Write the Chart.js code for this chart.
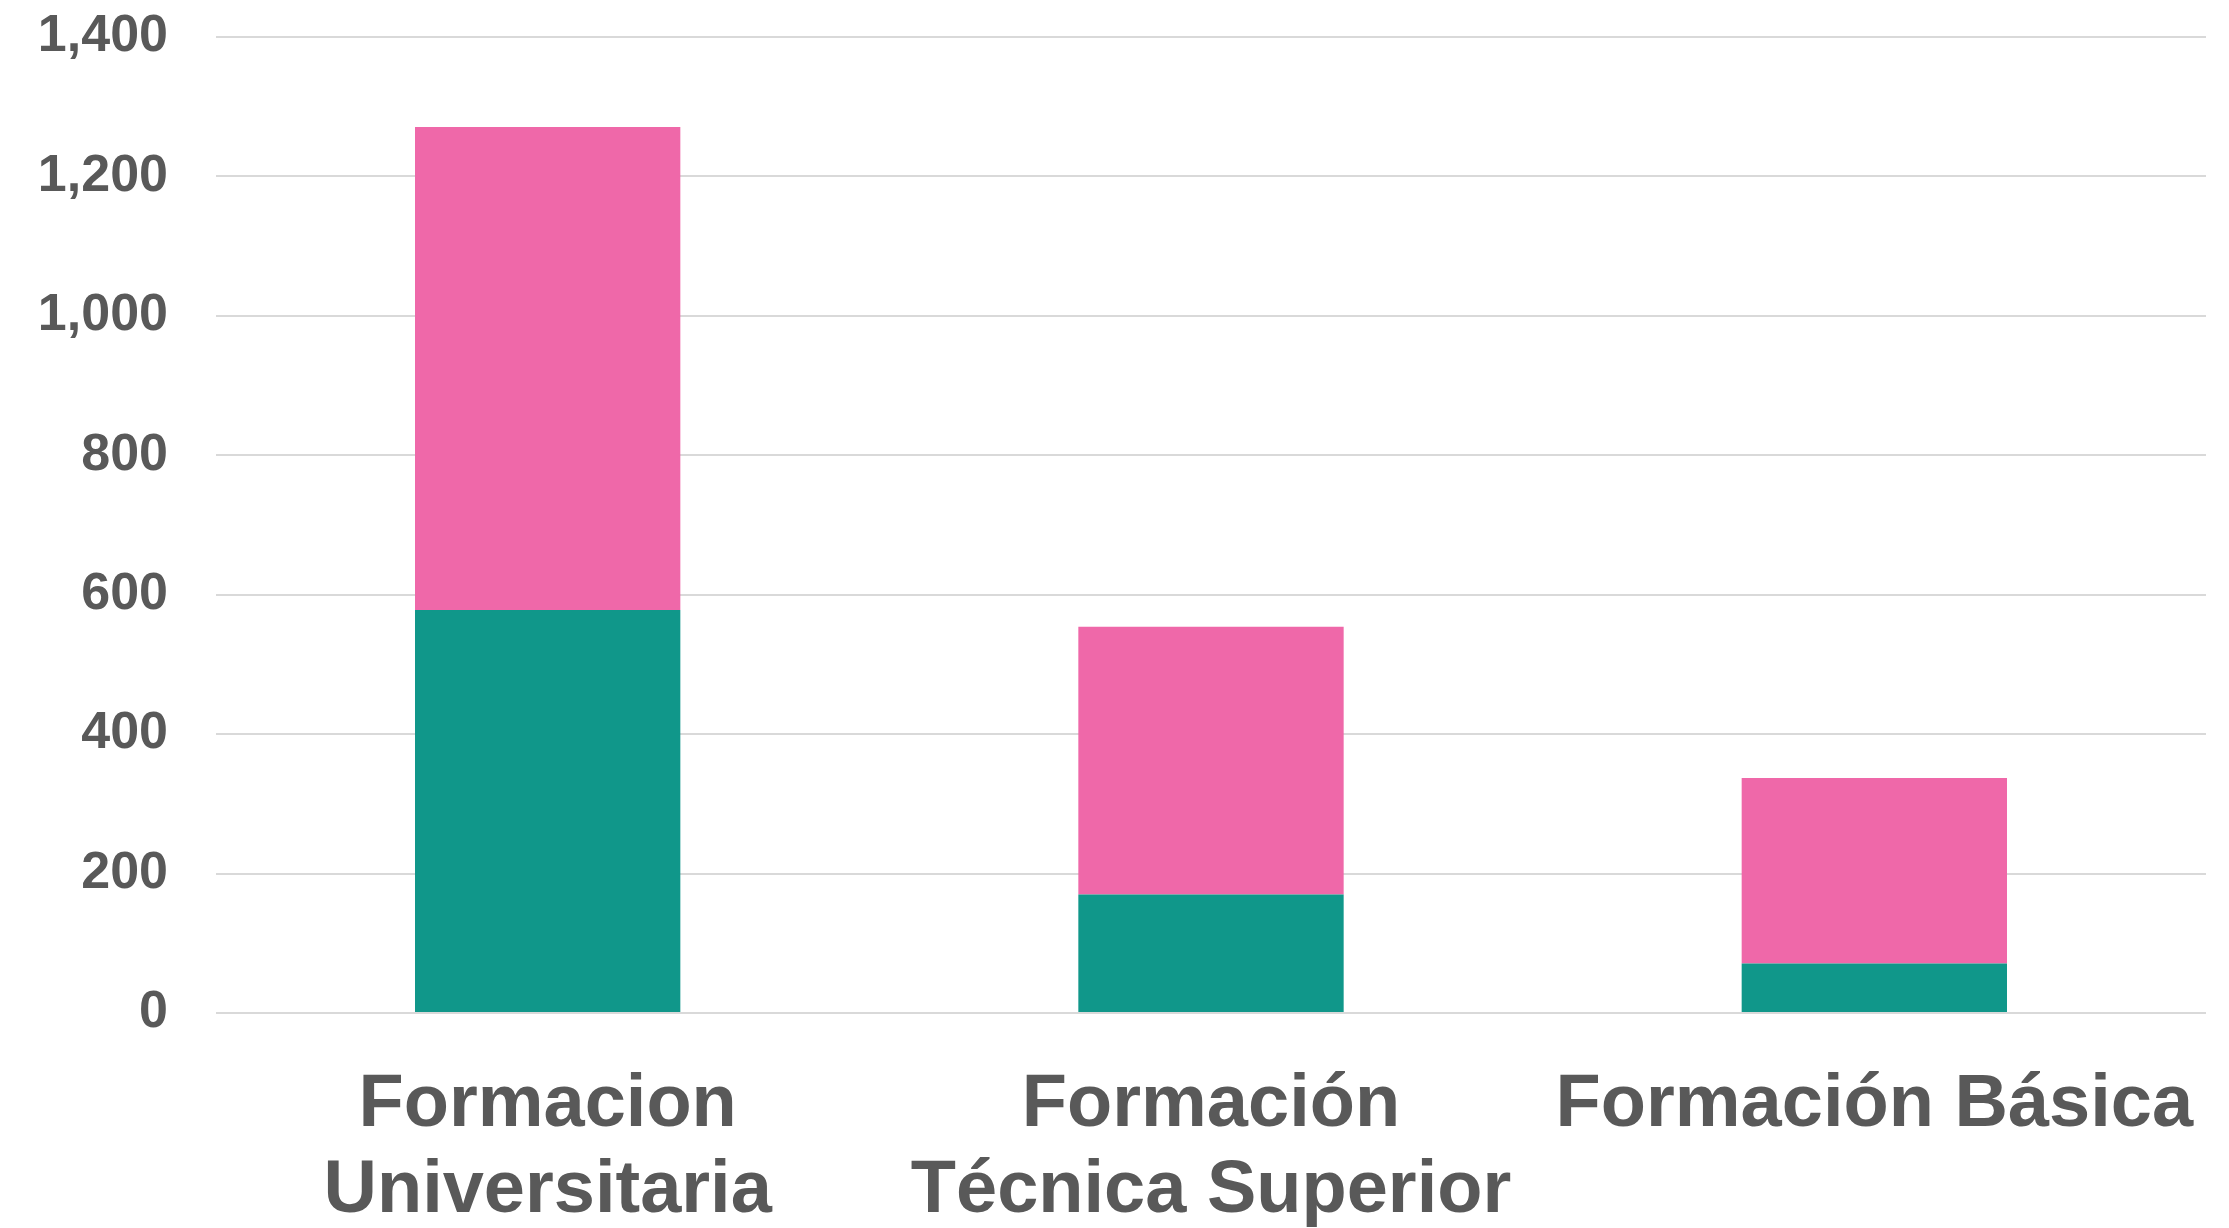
<!DOCTYPE html>
<html>
<head>
<meta charset="utf-8">
<script src="https://cdn.jsdelivr.net/npm/chart.js@4"></script>
<style>
  body { margin: 0; background: #fff; }
</style>
</head>
<body>
<canvas id="chart1" width="2229" height="1228"></canvas>
<script>
var categories = [
  ['Formacion', 'Universitaria'],
  ['Formación', 'Técnica Superior'],
  ['Formación Básica']
];
var hombres = [578, 170, 71];
var mujeres = [693, 384, 266];
var yTicks = [0, 200, 400, 600, 800, 1000, 1200, 1400];

var chart = new Chart('chart1', {
  type: 'bar',
  data: {
    labels: categories,
    datasets: [
      { label: 'Hombres', data: hombres, backgroundColor: '#10978a' },
      { label: 'Mujeres', data: mujeres, backgroundColor: '#ef68a9' }
    ]
  },
  options: {
    responsive: false,
    animation: false,
    devicePixelRatio: 1,
    layout: { padding: { left: 38, right: 23, top: 37, bottom: 0 } },
    plugins: {
      legend: { display: false },
      tooltip: { enabled: false }
    },
    datasets: {
      bar: { barPercentage: 1, categoryPercentage: 0.4 }
    },
    scales: {
      x: {
        stacked: true,
        grid: { display: false, drawTicks: false },
        border: { display: false },
        afterFit: function (s) {
          s.height = 215;
          s.paddingLeft = 0;
          s.paddingRight = 0;
        },
        ticks: {
          color: '#595959',
          padding: 50,
          maxRotation: 0,
          autoSkip: false,
          font: { family: '"Liberation Sans", Arial, sans-serif', size: 74, weight: 'bold', lineHeight: 1.162 }
        }
      },
      y: {
        stacked: true,
        min: 0,
        max: 1400,
        afterBuildTicks: function (scale) {
          scale.ticks = yTicks.map(function (v) { return { value: v }; });
        },
        afterFit: function (s) {
          s.width = 178;
          s.paddingTop = 0;
          s.paddingBottom = 0;
        },
        grid: { color: '#d9d9d9', lineWidth: 2, drawTicks: false },
        border: { display: false },
        ticks: {
          color: '#595959',
          padding: 48,
          callback: function (v) { return v.toLocaleString('en-US'); },
          font: { family: '"Liberation Sans", Arial, sans-serif', size: 52, weight: 'bold' }
        }
      }
    }
  }
});
</script>
</body>
</html>
